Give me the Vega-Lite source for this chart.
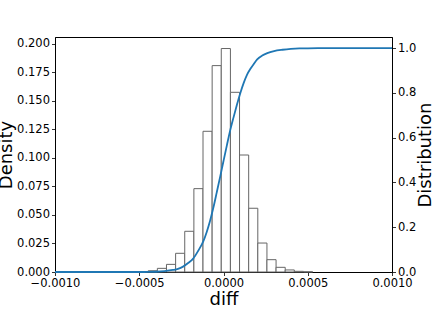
{
  "$schema": "https://vega.github.io/schema/vega-lite/v6.json",
  "width": 337,
  "height": 235,
  "autosize": "none",
  "padding": {"left": 55, "top": 37, "right": 44, "bottom": 40},
  "background": "white",
  "config": {
    "font": "DejaVu Sans",
    "view": {"stroke": "black", "strokeWidth": 1},
    "axis": {
      "domainColor": "black",
      "tickColor": "black",
      "tickSize": 3.5,
      "tickWidth": 0.8,
      "labelColor": "black",
      "labelFontSize": 11.5,
      "labelPadding": 2,
      "titleColor": "black",
      "titleFontSize": 18,
      "titleFontWeight": "normal",
      "grid": false,
      "labelFlush": false,
      "labelOverlap": false,
      "labelBound": false
    }
  },
  "datasets": {
    "hist": [
      {"start": -0.000501, "end": -0.0004468, "density": 0.0003},
      {"start": -0.0004468, "end": -0.0003926, "density": 0.0011},
      {"start": -0.0003926, "end": -0.0003384, "density": 0.0032},
      {"start": -0.0003384, "end": -0.0002842, "density": 0.0067},
      {"start": -0.0002842, "end": -0.00023, "density": 0.0164},
      {"start": -0.00023, "end": -0.0001758, "density": 0.0357},
      {"start": -0.0001758, "end": -0.0001216, "density": 0.0731},
      {"start": -0.0001216, "end": -0.0000674, "density": 0.1234},
      {"start": -0.0000674, "end": -0.0000132, "density": 0.181},
      {"start": -0.0000132, "end": 0.000041, "density": 0.196},
      {"start": 0.000041, "end": 0.0000952, "density": 0.1576},
      {"start": 0.0000952, "end": 0.0001494, "density": 0.1026},
      {"start": 0.0001494, "end": 0.0002036, "density": 0.0559},
      {"start": 0.0002036, "end": 0.0002578, "density": 0.0254},
      {"start": 0.0002578, "end": 0.000312, "density": 0.0108},
      {"start": 0.000312, "end": 0.0003662, "density": 0.0041},
      {"start": 0.0003662, "end": 0.0004204, "density": 0.0018},
      {"start": 0.0004204, "end": 0.0004746, "density": 0.0006},
      {"start": 0.0004746, "end": 0.0005288, "density": 0.0002}
    ],
    "cdf": [
      {"diff": -0.001, "cdf": 0},
      {"diff": -0.0006, "cdf": 0},
      {"diff": -0.0005, "cdf": 0.0},
      {"diff": -0.00045, "cdf": 0.0003},
      {"diff": -0.0004, "cdf": 0.0012},
      {"diff": -0.00035, "cdf": 0.0038},
      {"diff": -0.0003, "cdf": 0.009},
      {"diff": -0.00027, "cdf": 0.014},
      {"diff": -0.00024, "cdf": 0.024},
      {"diff": -0.00021, "cdf": 0.04},
      {"diff": -0.00018, "cdf": 0.06},
      {"diff": -0.00015, "cdf": 0.095},
      {"diff": -0.00012, "cdf": 0.137},
      {"diff": -0.0001, "cdf": 0.178},
      {"diff": -0.00008, "cdf": 0.228},
      {"diff": -0.00006, "cdf": 0.288},
      {"diff": -0.00004, "cdf": 0.356},
      {"diff": -0.00002, "cdf": 0.425},
      {"diff": 0, "cdf": 0.496},
      {"diff": 0.00002, "cdf": 0.566},
      {"diff": 0.00004, "cdf": 0.634},
      {"diff": 0.00006, "cdf": 0.692},
      {"diff": 0.00008, "cdf": 0.748},
      {"diff": 0.0001, "cdf": 0.8},
      {"diff": 0.00012, "cdf": 0.845},
      {"diff": 0.00014, "cdf": 0.882},
      {"diff": 0.00016, "cdf": 0.908},
      {"diff": 0.00018, "cdf": 0.93},
      {"diff": 0.0002, "cdf": 0.95},
      {"diff": 0.00023, "cdf": 0.967},
      {"diff": 0.00026, "cdf": 0.978},
      {"diff": 0.0003, "cdf": 0.987},
      {"diff": 0.00035, "cdf": 0.993},
      {"diff": 0.0004, "cdf": 0.997},
      {"diff": 0.00045, "cdf": 0.999},
      {"diff": 0.0005, "cdf": 0.9995},
      {"diff": 0.0006, "cdf": 1},
      {"diff": 0.001, "cdf": 1}
    ]
  },
  "layer": [
    {
      "data": {"name": "hist"},
      "mark": {"type": "rect", "fill": "white", "stroke": "#666666", "strokeWidth": 1},
      "encoding": {
        "x": {
          "field": "start", "type": "quantitative",
          "scale": {"domain": [-0.001, 0.001], "nice": false, "zero": false},
          "axis": {"values": [-0.001, -0.0005, 0, 0.0005, 0.001], "format": ".4f", "title": "diff", "titlePadding": 1}
        },
        "x2": {"field": "end"},
        "y": {
          "field": "density", "type": "quantitative",
          "scale": {"domain": [0, 0.2061], "nice": false},
          "axis": {"values": [0, 0.025, 0.05, 0.075, 0.1, 0.125, 0.15, 0.175, 0.2], "format": ".3f", "title": "Density", "titlePadding": 1}
        },
        "y2": {"datum": 0}
      }
    },
    {
      "data": {"name": "cdf"},
      "mark": {"type": "line", "color": "#1f77b4", "strokeWidth": 1.8, "interpolate": "monotone"},
      "encoding": {
        "x": {"field": "diff", "type": "quantitative"},
        "y": {
          "field": "cdf", "type": "quantitative",
          "scale": {"domain": [0, 1.05], "nice": false},
          "axis": {"orient": "right", "values": [0, 0.2, 0.4, 0.6, 0.8, 1.0], "format": ".1f", "title": "Distribution", "titleAngle": -90, "titleBaseline": "top", "titlePadding": 1}
        }
      }
    }
  ],
  "resolve": {"scale": {"y": "independent"}}
}
